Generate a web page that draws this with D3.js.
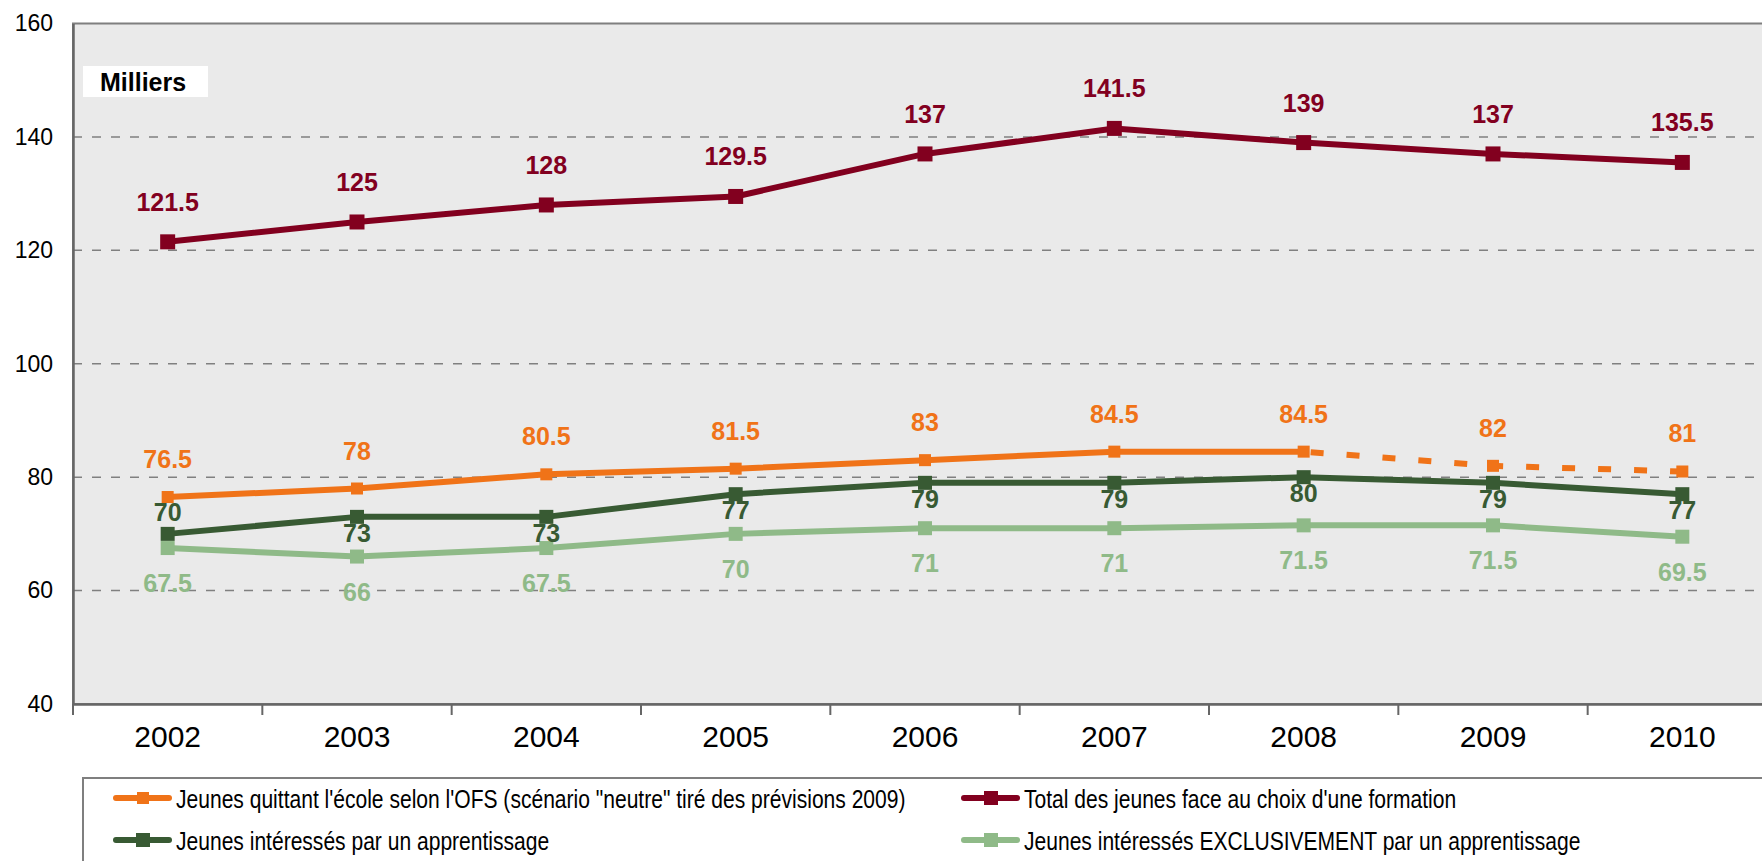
<!DOCTYPE html>
<html>
<head>
<meta charset="utf-8">
<script src="https://cdn.jsdelivr.net/npm/d3@7"></script>
<style>
  body { margin: 0; background: #fff; }
  svg { display: block; font-family: "Liberation Sans", Arial, sans-serif; }
</style>
</head>
<body>
<div class="chart"></div>
<script>
let years = ['2002', '2003', '2004', '2005', '2006', '2007', '2008', '2009', '2010'];
let yTicks = [40, 60, 80, 100, 120, 140, 160];

let totalJeunes = [121.5, 125, 128, 129.5, 137, 141.5, 139, 137, 135.5];
let quittantOFS = [76.5, 78, 80.5, 81.5, 83, 84.5, 84.5, 82, 81];
let interesses = [70, 73, 73, 77, 79, 79, 80, 79, 77];
let exclusivement = [67.5, 66, 67.5, 70, 71, 71, 71.5, 71.5, 69.5];

let forecastFrom = '2008'; // OFS series is dashed after this year

let legendLabels = [
  'Jeunes quittant l\'école selon l\'OFS (scénario "neutre" tiré des prévisions 2009)',
  'Total des jeunes face au choix d\'une formation',
  'Jeunes intéressés par un apprentissage',
  'Jeunes intéressés EXCLUSIVEMENT par un apprentissage'
];

let fullWidth = 1762, fullHeight = 861;
let margin = {top: 23.5, left: 73};
let width = 1704;   // plot runs past the right edge of the picture
let height = 680.5;

let svg = d3.select('.chart')
  .append('svg')
    .attr('width', fullWidth)
    .attr('height', fullHeight);

let g = svg.append('g')
  .attr('transform', `translate(${margin.left}, ${margin.top})`);

let xScale = d3.scaleBand().domain(years).range([0, width]);
let yScale = d3.scaleLinear().domain([40, 160]).range([height, 0]);
let cx = d => xScale(d) + xScale.bandwidth() / 2;

// plot background
g.append('rect')
  .attr('width', width)
  .attr('height', height)
  .style('fill', '#eaeaea')
  .style('stroke', '#7f7f7f')
  .style('stroke-width', 2);

// dashed gridlines
g.selectAll('.grid')
  .data(yTicks.filter(t => t > 40 && t < 160))
  .enter().append('line')
    .attr('x1', 0).attr('x2', width)
    .attr('y1', d => yScale(d)).attr('y2', d => yScale(d))
    .style('stroke', '#808080')
    .style('stroke-width', 1.5)
    .style('stroke-dasharray', '9,10');

// y axis
let yAxis = d3.axisLeft(yScale).tickValues(yTicks).tickSize(0).tickPadding(20);
g.append('g')
  .call(yAxis)
  .call(a => a.select('.domain').style('stroke', '#666').style('stroke-width', 2.5))
  .call(a => a.selectAll('text').style('font-size', '23px').style('fill', '#000')
    .style('font-family', '"Liberation Sans", Arial, sans-serif'));

// x axis: labels centred in bands, ticks on band boundaries
let xAxis = d3.axisBottom(xScale).tickSize(0).tickPadding(22);
g.append('g')
  .attr('transform', `translate(0, ${height})`)
  .call(xAxis)
  .call(a => a.select('.domain').style('stroke', '#666').style('stroke-width', 2.5))
  .call(a => a.selectAll('text').style('font-size', '30px').style('fill', '#000')
    .style('font-family', '"Liberation Sans", Arial, sans-serif'));

g.selectAll('.xtick')
  .data(years)
  .enter().append('line')
    .attr('x1', d => xScale(d)).attr('x2', d => xScale(d))
    .attr('y1', height).attr('y2', height + 11)
    .style('stroke', '#666')
    .style('stroke-width', 2);

// "Milliers" box
g.append('rect')
  .attr('x', 10).attr('y', 42.5)
  .attr('width', 125).attr('height', 31)
  .style('fill', '#fff');
g.append('text')
  .attr('x', 27).attr('y', 67)
  .style('font-size', '25px')
  .style('font-weight', 'bold')
  .text('Milliers');

let line = d3.line()
  .x(d => cx(d.year))
  .y(d => yScale(d.value));

function pairs(values) {
  return values.map((v, i) => ({year: years[i], value: v, i: i}));
}

function drawSeries(values, color, lw, size, labelDy, dash) {
  let pts = pairs(values);
  let cut = years.indexOf(forecastFrom);
  if (dash) {
    g.append('path').datum(pts.slice(0, cut + 1))
      .attr('d', line).style('fill', 'none')
      .style('stroke', color).style('stroke-width', lw);
    g.append('path').datum(pts.slice(cut))
      .attr('d', line).style('fill', 'none')
      .style('stroke', color).style('stroke-width', lw)
      .style('stroke-dasharray', '13,23')
      .style('stroke-dashoffset', -7);
  } else {
    g.append('path').datum(pts)
      .attr('d', line).style('fill', 'none')
      .style('stroke', color).style('stroke-width', lw)
      .style('stroke-linejoin', 'round');
  }
  g.selectAll(null).data(pts).enter().append('rect')
    .attr('x', d => cx(d.year) - size / 2)
    .attr('y', d => yScale(d.value) - size / 2)
    .attr('width', size).attr('height', size)
    .style('fill', color);
  g.selectAll(null).data(pts).enter().append('text')
    .attr('x', d => cx(d.year))
    .attr('y', d => yScale(d.value) + labelDy(d))
    .attr('text-anchor', 'middle')
    .style('font-size', '25px')
    .style('font-weight', 'bold')
    .style('fill', color)
    .text(d => d.value);
}

let cRed = '#82001f', cOrange = '#f07318', cDark = '#385a33', cLight = '#8fba88';

drawSeries(exclusivement, cLight, 6, 14, d => 44, false);
drawSeries(interesses, cDark, 6, 14, d => d.i === 0 ? -13 : 25, false);
drawSeries(quittantOFS, cOrange, 6, 12, d => -29, true);
drawSeries(totalJeunes, cRed, 6, 15, d => -31, false);

// legend
let legend = svg.append('g').attr('transform', 'translate(83, 778)');
legend.append('rect')
  .attr('width', 1720).attr('height', 120)
  .style('fill', '#fff')
  .style('stroke', '#7f7f7f')
  .style('stroke-width', 2);

let legendItems = [
  {label: legendLabels[0], color: cOrange, size: 12, col: 0, row: 0},
  {label: legendLabels[1], color: cRed, size: 14, col: 1, row: 0},
  {label: legendLabels[2], color: cDark, size: 14, col: 0, row: 1},
  {label: legendLabels[3], color: cLight, size: 14, col: 1, row: 1}
];
let colX = [30, 878], rowY = [20, 62];

let li = legend.selectAll('.item')
  .data(legendItems)
  .enter().append('g')
    .attr('transform', d => `translate(${colX[d.col]}, ${rowY[d.row]})`);
li.append('line')
  .attr('x1', 3).attr('x2', 56)
  .style('stroke', d => d.color)
  .style('stroke-width', 6)
  .style('stroke-linecap', 'round');
li.append('rect')
  .attr('x', d => 30 - d.size / 2).attr('y', d => -d.size / 2)
  .attr('width', d => d.size).attr('height', d => d.size)
  .style('fill', d => d.color);
// no narrow font installed: squeeze Liberation Sans horizontally instead
li.append('text')
  .attr('transform', 'translate(63, 10) scale(0.81, 1)')
  .style('font-family', '"Liberation Sans", Arial, sans-serif')
  .style('font-size', '26px')
  .text(d => d.label);
</script>
</body>
</html>
